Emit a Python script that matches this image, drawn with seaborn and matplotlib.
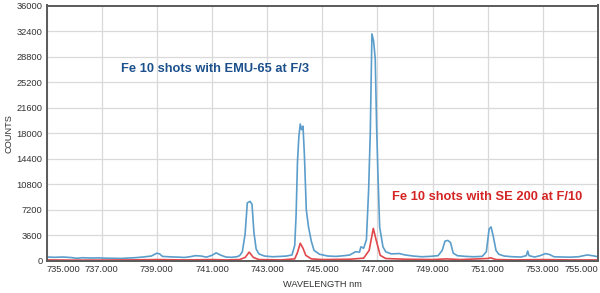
import matplotlib
matplotlib.use("Agg")
import matplotlib.pyplot as plt
import seaborn as sns
import pandas as pd

# Blue series: Fe 10 shots with EMU-65 at F/3
blue_wl = [735.0, 735.3, 735.6, 735.9, 736.1, 736.3, 736.6, 736.9, 737.1, 737.4, 737.7, 738.0,
           738.2, 738.5, 738.8, 738.9, 739.0, 739.1, 739.2, 739.5, 739.8, 740.0, 740.2, 740.4,
           740.6, 740.8, 741.0, 741.15, 741.3, 741.5, 741.7, 741.9, 742.0, 742.1, 742.2, 742.28,
           742.38, 742.45, 742.52, 742.6, 742.7, 742.9, 743.2, 743.5, 743.7, 743.9, 744.0, 744.05,
           744.1, 744.15, 744.2, 744.25, 744.3, 744.35, 744.42, 744.5, 744.6, 744.7, 744.9, 745.2,
           745.5, 745.8, 746.0, 746.2, 746.35, 746.4, 746.5, 746.6, 746.68, 746.74, 746.8, 746.86,
           746.92, 746.97, 747.02, 747.08, 747.2, 747.3, 747.5, 747.8, 748.0, 748.3, 748.6, 748.9,
           749.2, 749.35, 749.45, 749.55, 749.65, 749.75, 749.9, 750.2, 750.5, 750.8, 750.95,
           751.05, 751.12, 751.2, 751.3, 751.4, 751.6, 751.9, 752.2, 752.4, 752.45, 752.5, 752.7,
           752.9, 753.1, 753.25, 753.4, 753.7, 754.0, 754.3, 754.6, 754.8, 755.0]
blue_counts = [560, 520, 560, 480, 380, 460, 420, 440, 400, 380, 360, 420,
               460, 560, 700, 900, 1100, 1000, 650, 580, 540, 500, 600, 750,
               700, 550, 800, 1150, 850, 560, 520, 600, 750, 1300, 3800, 8200,
               8400, 8000, 4000, 1700, 1000, 700, 600, 650, 700, 850, 2200, 6500,
               14000, 17500, 19300, 18500, 19000, 15000, 7200, 4800, 2800, 1500, 950, 700,
               650, 750, 850, 1300, 1250, 2000, 1800, 3000, 10000, 18000, 32000, 31000,
               28500, 19000, 12000, 4800, 2000, 1300, 1000, 1050, 850, 700, 600, 650,
               750, 1500, 2800, 2900, 2600, 1100, 750, 650, 600, 650, 1300,
               4500, 4800, 3500, 1500, 950, 700, 600, 560, 750, 1400, 750, 560,
               750, 1050, 900, 600, 560, 540, 600, 850, 750, 600]

# Red series: Fe 10 shots with SE 200 at F/10
red_wl = [735.0, 736.0, 737.0, 738.0, 739.0, 740.0, 741.0, 741.5, 742.0, 742.2, 742.35, 742.5,
          742.7, 743.5, 744.0, 744.1, 744.2, 744.3, 744.4, 744.6, 745.0, 746.0, 746.5, 746.7,
          746.85, 746.95, 747.1, 747.3, 748.0, 749.0, 749.5, 750.0, 751.0, 751.1, 751.3, 752.0,
          753.0, 754.0, 755.0]
red_counts = [150, 120, 130, 150, 200, 150, 200, 150, 200, 500, 1250, 500,
              200, 150, 300, 1200, 2500, 1800, 800, 300, 200, 250, 400, 1500,
              4600, 3000, 800, 350, 250, 200, 300, 200, 350, 450, 200, 150,
              200, 150, 150]

x_ticks = [735, 737, 739, 741, 743, 745, 747, 749, 751, 753, 755]
y_ticks = [0, 3600, 7200, 10800, 14400, 18000, 21600, 25200, 28800, 32400, 36000]

blue_label = "Fe 10 shots with EMU-65 at F/3"
red_label = "Fe 10 shots with SE 200 at F/10"

sns.set_style("whitegrid")
plt.rcParams['font.family'] = ['Liberation Sans', 'DejaVu Sans']

fig = plt.figure(figsize=(6.0, 2.93), dpi=100)
ax = fig.add_axes([46.6 / 600, 32 / 293, (598 - 46.6) / 600, (261 - 5.5) / 293])

df_b = pd.DataFrame({"wl": blue_wl, "counts": blue_counts})
df_r = pd.DataFrame({"wl": red_wl, "counts": red_counts})

sns.lineplot(data=df_b, x="wl", y="counts", ax=ax, color="#5b9dcb", linewidth=1.2, sort=True)
sns.lineplot(data=df_r, x="wl", y="counts", ax=ax, color="#e0484c", linewidth=1.2, sort=True)

ax.set_xlim(735, 755)
ax.set_ylim(0, 36000)
ax.set_xticks(x_ticks)
ax.set_xticklabels([f"{t:.3f}" for t in x_ticks])
ax.set_yticks(y_ticks)
ax.set_yticklabels([str(t) for t in y_ticks])
labs = ax.get_xticklabels()
labs[0].set_horizontalalignment("left")
labs[-1].set_horizontalalignment("right")

ax.tick_params(axis="both", labelsize=6.7, colors="#333333", length=0, pad=3)
ax.grid(True, color="#d9d9d9", linewidth=0.9)
for s in ax.spines.values():
    s.set_visible(True)
    s.set_color("#5a5a5a")
    s.set_linewidth(1.4)

ax.set_xlabel("WAVELENGTH nm", fontsize=6.7, color="#333333", labelpad=4)
ax.set_ylabel("COUNTS", fontsize=6.7, color="#333333", labelpad=4)
ax.yaxis.set_label_coords(-0.06, 0.5)

fig.text(121 / 600, 1 - 69 / 293, blue_label, color="#1c508c", fontsize=9.3, fontweight="bold",
         va="center", ha="left")
fig.text(392 / 600, 1 - 197 / 293, red_label, color="#d42424", fontsize=9.3, fontweight="bold",
         va="center", ha="left")

fig.savefig("out.png", dpi=100)
